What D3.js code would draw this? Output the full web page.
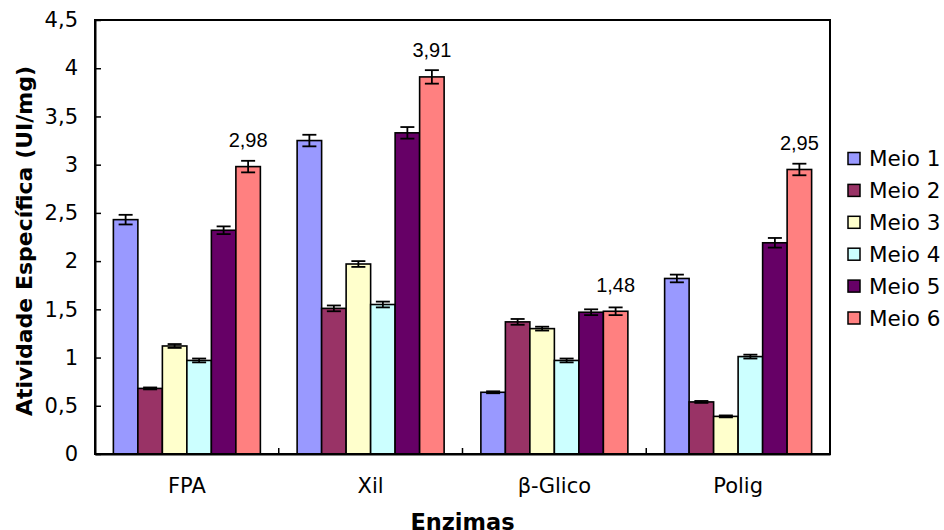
<!DOCTYPE html>
<html>
<head>
<meta charset="utf-8">
<script src="https://cdn.jsdelivr.net/npm/d3@7"></script>
<style>
  html, body { margin: 0; padding: 0; background: #fff; }
  svg { display: block; }
</style>
</head>
<body>
<svg id="chart" width="944" height="530"></svg>
<script>
// ---- data ----
const categories = ["FPA", "Xil", "β-Glico", "Polig"];
const seriesNames = ["Meio 1", "Meio 2", "Meio 3", "Meio 4", "Meio 5", "Meio 6"];
const seriesColors = ["#9999FF", "#993366", "#FFFFCC", "#CCFFFF", "#660066", "#FF8080"];
const meio1 = [2.43, 3.25, 0.64, 1.82];
const meio2 = [0.68, 1.51, 1.37, 0.54];
const meio3 = [1.12, 1.97, 1.30, 0.39];
const meio4 = [0.97, 1.55, 0.97, 1.01];
const meio5 = [2.32, 3.33, 1.47, 2.19];
const meio6 = [2.98, 3.91, 1.48, 2.95];
const err1 = [0.05, 0.06, 0.01, 0.04];
const err2 = [0.01, 0.03, 0.03, 0.01];
const err3 = [0.02, 0.03, 0.02, 0.01];
const err4 = [0.02, 0.03, 0.02, 0.02];
const err5 = [0.04, 0.06, 0.03, 0.05];
const err6 = [0.06, 0.07, 0.04, 0.06];
const yTicks = [0, 0.5, 1, 1.5, 2, 2.5, 3, 3.5, 4, 4.5];
const labeledSeries = "Meio 6";
const yTitle = "Atividade Específica (UI/mg)";
const xTitle = "Enzimas";

const values = [meio1, meio2, meio3, meio4, meio5, meio6];
const errors = [err1, err2, err3, err4, err5, err6];
const fmt = v => d3.format(".2f")(v).replace(".", ",");
const fmtTick = v => String(v).replace(".", ",");

const rows = [];
seriesNames.forEach((s, si) => {
  categories.forEach((c, ci) => {
    rows.push({ series: s, si, cat: c, value: values[si][ci], err: errors[si][ci] });
  });
});

// ---- layout ----
const svg = d3.select("#chart");
const pLeft = 95, pRight = 830, pTop = 20, pBottom = 454;

const x = d3.scaleBand().domain(categories).range([pLeft, pRight]).padding(0);
const w = x.bandwidth() / 7.5;
const xi = d3.scaleBand().domain(seriesNames).range([0.75 * w, 6.75 * w]).padding(0);
const y = d3.scaleLinear().domain([0, 4.5]).range([pBottom, pTop]);
const color = d3.scaleOrdinal().domain(seriesNames).range(seriesColors);

const font = "'DejaVu Sans', Verdana, sans-serif";

// bars
svg.append("g").selectAll("rect").data(rows).join("rect")
  .attr("x", d => x(d.cat) + xi(d.series))
  .attr("y", d => y(d.value))
  .attr("width", xi.bandwidth())
  .attr("height", d => y(0) - y(d.value))
  .attr("fill", d => color(d.series))
  .attr("stroke", "#000")
  .attr("stroke-width", 1.6);

// error bars
const eg = svg.append("g").attr("stroke", "#000").attr("stroke-width", 1.8);
const capW = 7;
rows.forEach(d => {
  const cx = x(d.cat) + xi(d.series) + xi.bandwidth() / 2;
  const y1 = y(d.value + d.err), y2 = y(d.value - d.err);
  eg.append("line").attr("x1", cx).attr("x2", cx).attr("y1", y1).attr("y2", y2);
  eg.append("line").attr("x1", cx - capW).attr("x2", cx + capW).attr("y1", y1).attr("y2", y1);
  eg.append("line").attr("x1", cx - capW).attr("x2", cx + capW).attr("y1", y2).attr("y2", y2);
});

// data labels
svg.append("g").selectAll("text").data(rows.filter(d => d.series === labeledSeries)).join("text")
  .attr("x", d => x(d.cat) + xi(d.series) + xi.bandwidth() / 2)
  .attr("y", d => y(d.value) - 19.5)
  .attr("text-anchor", "middle")
  .attr("font-family", "'Liberation Sans', Arial, sans-serif")
  .attr("font-size", 20)
  .attr("fill", "#000")
  .text(d => fmt(d.value));

// plot frame
svg.append("rect")
  .attr("x", pLeft).attr("y", pTop)
  .attr("width", pRight - pLeft).attr("height", pBottom - pTop)
  .attr("fill", "none").attr("stroke", "#000").attr("stroke-width", 2);

// y axis
const yAxis = svg.append("g").attr("transform", `translate(${pLeft},0)`)
  .call(d3.axisLeft(y).tickValues(yTicks).tickSizeInner(-6).tickSizeOuter(0).tickPadding(17).tickFormat(fmtTick));
yAxis.select(".domain").attr("stroke-width", 2);
yAxis.selectAll(".tick line").attr("stroke-width", 1.5);
yAxis.selectAll("text").attr("font-family", font).attr("font-size", 21).attr("fill", "#000");

// x axis
const xAxis = svg.append("g").attr("transform", `translate(0,${pBottom})`)
  .call(d3.axisBottom(x).tickSize(0).tickPadding(24));
xAxis.select(".domain").attr("stroke-width", 2);
xAxis.selectAll("text").attr("font-family", font).attr("font-size", 21).attr("fill", "#000");
// category boundary ticks (inside)
svg.append("g").selectAll("line").data(categories.slice(1)).join("line")
  .attr("x1", d => x(d)).attr("x2", d => x(d))
  .attr("y1", pBottom).attr("y2", pBottom - 6)
  .attr("stroke", "#000").attr("stroke-width", 1.5);

// axis titles
svg.append("text")
  .attr("transform", `translate(32,${(pTop + pBottom) / 2 + 4}) rotate(-90)`)
  .attr("text-anchor", "middle")
  .attr("font-family", font).attr("font-weight", "bold").attr("font-size", 22)
  .text(yTitle);
svg.append("text")
  .attr("x", (pLeft + pRight) / 2).attr("y", 530)
  .attr("text-anchor", "middle")
  .attr("font-family", font).attr("font-weight", "bold").attr("font-size", 22.5)
  .text(xTitle);

// legend
const lg = svg.append("g").attr("transform", "translate(848,158.5)");
const item = lg.selectAll("g").data(seriesNames).join("g")
  .attr("transform", (d, i) => `translate(0,${i * 31.9})`);
item.append("rect")
  .attr("x", 0).attr("y", -6).attr("width", 12).attr("height", 12)
  .attr("fill", d => color(d)).attr("stroke", "#000").attr("stroke-width", 1.5);
item.append("text")
  .attr("x", 21).attr("y", 0).attr("dy", "0.36em")
  .attr("font-family", font).attr("font-size", 21.5)
  .text(d => d);
</script>
</body>
</html>
